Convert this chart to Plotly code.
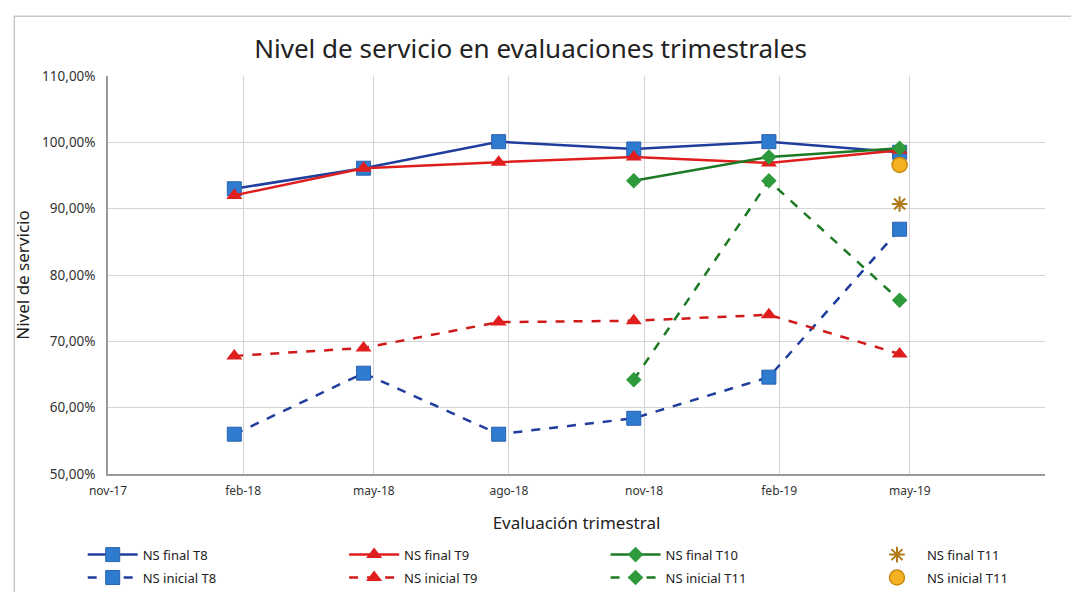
import plotly.graph_objects as go

# ---- data ----
dates = ["2018-01-26", "2018-04-24", "2018-07-25", "2018-10-25", "2019-01-25", "2019-04-24"]
ns_final_t8 = [93.0, 96.1, 100.1, 99.0, 100.1, 98.5]
ns_final_t9 = [92.0, 96.1, 97.0, 97.8, 96.9, 98.8]
ns_final_t10_dates = ["2018-10-25", "2019-01-25", "2019-04-24"]
ns_final_t10 = [94.2, 97.8, 99.1]
ns_final_t11_dates = ["2019-04-24"]
ns_final_t11 = [90.7]
ns_inicial_t8 = [56.0, 65.2, 56.0, 58.4, 64.6, 86.9]
ns_inicial_t9 = [67.8, 69.0, 72.9, 73.1, 74.0, 68.1]
ns_inicial_t11g_dates = ["2018-10-25", "2019-01-25", "2019-04-24"]
ns_inicial_t11g = [64.2, 94.2, 76.2]
ns_inicial_t11_dates = ["2019-04-24"]
ns_inicial_t11 = [96.6]

tick_vals = ["2017-11-01", "2018-02-01", "2018-05-01", "2018-08-01", "2018-11-01", "2019-02-01", "2019-05-01", "2019-08-01"]
tick_text = ["nov-17", "feb-18", "may-18", "ago-18", "nov-18", "feb-19", "may-19", ""]
y_ticks = [50, 60, 70, 80, 90, 100, 110]
y_text = ["50,00%", "60,00%", "70,00%", "80,00%", "90,00%", "100,00%", "110,00%"]

NAVY = "#1f3d9c"
BLUE_M = "#2e7bcf"
RED = "#e01e1e"
GREEN = "#1d7a24"
GREEN_M = "#2f9a3c"
ORANGE = "#f5b324"
GOLD = "#b07a1a"

fig = go.Figure()

fig.add_trace(go.Scatter(x=dates, y=ns_final_t8, name="NS final T8", mode="lines+markers", legend="legend", legendgroup="g1",
                         line=dict(color=NAVY, width=2.5),
                         marker=dict(symbol="square", size=14, color=BLUE_M, line=dict(color="#2a63b0", width=1))))
fig.add_trace(go.Scatter(x=dates, y=ns_inicial_t8, name="NS inicial T8", mode="lines+markers", legend="legend", legendgroup="g2",
                         line=dict(color=NAVY, width=2.5, dash="dash"),
                         marker=dict(symbol="square", size=14, color=BLUE_M, line=dict(color="#2a63b0", width=1))))
fig.add_trace(go.Scatter(x=dates, y=ns_final_t9, name="NS final T9", mode="lines+markers", legend="legend2", legendgroup="g3",
                         line=dict(color=RED, width=2.5),
                         marker=dict(symbol="triangle-up", size=14, color=RED)))
fig.add_trace(go.Scatter(x=dates, y=ns_inicial_t9, name="NS inicial T9", mode="lines+markers", legend="legend2", legendgroup="g4",
                         line=dict(color="#d01a1a", width=2.5, dash="dash"),
                         marker=dict(symbol="triangle-up", size=14, color=RED)))
fig.add_trace(go.Scatter(x=ns_final_t10_dates, y=ns_final_t10, name="NS final T10", mode="lines+markers", legend="legend3", legendgroup="g5",
                         line=dict(color=GREEN, width=2.5),
                         marker=dict(symbol="diamond", size=12, color=GREEN_M)))
fig.add_trace(go.Scatter(x=ns_inicial_t11g_dates, y=ns_inicial_t11g, name="NS inicial T11", mode="lines+markers", legend="legend3", legendgroup="g6",
                         line=dict(color=GREEN, width=2.5, dash="dash"),
                         marker=dict(symbol="diamond", size=12, color=GREEN_M)))
fig.add_trace(go.Scatter(x=ns_final_t11_dates, y=ns_final_t11, name="NS final T11", mode="markers", legend="legend4", legendgroup="g7",
                         marker=dict(symbol="asterisk-open", size=13, color=GOLD, line=dict(color=GOLD, width=2))))
fig.add_trace(go.Scatter(x=ns_inicial_t11_dates, y=ns_inicial_t11, name="NS inicial T11", mode="markers", legend="legend4", legendgroup="g8",
                         marker=dict(symbol="circle", size=15, color=ORANGE, line=dict(color="#c98a10", width=1.5))))

leg_common = dict(orientation="v", yanchor="top", y=-0.165, xanchor="left",
                  font=dict(size=13, color="#222222"), itemwidth=50, tracegroupgap=3,
                  bgcolor="rgba(0,0,0,0)")

fig.update_layout(
    width=1071, height=584,
    paper_bgcolor="white", plot_bgcolor="white",
    font=dict(family="Noto Sans", color="#333333"),
    margin=dict(l=100, r=34, t=68, b=118, autoexpand=False),
    title=dict(text="Nivel de servicio en evaluaciones trimestrales", xref="paper", x=0.451, xanchor="center",
               yref="container", y=0.93, yanchor="middle", font=dict(size=26, color="#222222")),
    showlegend=True,
    legend=dict(x=-0.027, **leg_common),
    legend2=dict(x=0.252, **leg_common),
    legend3=dict(x=0.531, **leg_common),
    legend4=dict(x=0.81, **leg_common),
    xaxis=dict(type="date", range=["2017-11-01", "2019-08-01"], tickvals=tick_vals, ticktext=tick_text,
               showgrid=True, gridcolor="#d4d4d4", gridwidth=1, showline=True, linecolor="#9a9a9a",
               linewidth=1.5, ticks="", tickfont=dict(size=12, color="#333333"), ticklabelstandoff=5,
               title=dict(text="Evaluación trimestral", font=dict(size=17, color="#222222"), standoff=19)),
    yaxis=dict(range=[50, 110], tickvals=y_ticks, ticktext=y_text,
               showgrid=True, gridcolor="#d4d4d4", gridwidth=1, showline=True, linecolor="#9a9a9a",
               linewidth=1.5, ticks="", tickfont=dict(size=13.5, color="#333333"), ticklabelstandoff=8,
               title=dict(text="Nivel de servicio", font=dict(size=17, color="#222222"), standoff=8)),
    shapes=[dict(type="rect", xref="paper", yref="paper", x0=-0.1, x1=1.035, y0=-0.35, y1=1.15,
                 line=dict(color="#c8c8c8", width=1.5), fillcolor="rgba(0,0,0,0)")],
)

fig.write_html("out.html")
